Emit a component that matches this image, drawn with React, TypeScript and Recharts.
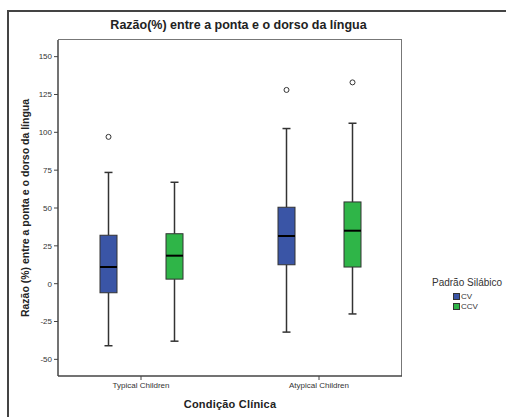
import { ComposedChart, Bar, XAxis, YAxis } from 'recharts';

const categories = ['Typical Children', 'Atypical Children'];

const cvMin = [-41, -32];
const cvQ1 = [-6, 12.5];
const cvMedian = [11, 31.5];
const cvQ3 = [32, 50.5];
const cvMax = [73.5, 102.5];
const cvOutlier = [97, 128];

const ccvMin = [-38, -20];
const ccvQ1 = [3, 11];
const ccvMedian = [18.5, 35];
const ccvQ3 = [33, 54];
const ccvMax = [67, 106];
const ccvOutlier: (number | null)[] = [null, 133];

const yTicks = [-50, -25, 0, 25, 50, 75, 100, 125, 150];

const data = categories.map((name, i) => ({
  name,
  cv: { min: cvMin[i], q1: cvQ1[i], med: cvMedian[i], q3: cvQ3[i], max: cvMax[i], out: cvOutlier[i] },
  ccv: { min: ccvMin[i], q1: ccvQ1[i], med: ccvMedian[i], q3: ccvQ3[i], max: ccvMax[i], out: ccvOutlier[i] },
}));

const FONT = '"Liberation Sans", Arial, sans-serif';
const INK = '#333';

const makeBox = (key: 'cv' | 'ccv', fill: string) => (props: any) => {
  const { x, y, width, height, payload } = props;
  const s = payload[key];
  const top = Math.min(y, y + height);
  const h = Math.abs(height);
  const k = h / (s.q3 - s.q1);
  const py = (v: number) => top + (s.q3 - v) * k;
  const cx = x + width / 2;
  const cap = 4;
  return (
    <g>
      <line x1={cx} x2={cx} y1={py(s.max)} y2={top} stroke={INK} strokeWidth={1.5} />
      <line x1={cx} x2={cx} y1={top + h} y2={py(s.min)} stroke={INK} strokeWidth={1.5} />
      <line x1={cx - cap} x2={cx + cap} y1={py(s.max)} y2={py(s.max)} stroke={INK} strokeWidth={1.5} />
      <line x1={cx - cap} x2={cx + cap} y1={py(s.min)} y2={py(s.min)} stroke={INK} strokeWidth={1.5} />
      <rect x={x} y={top} width={width} height={h} fill={fill} stroke={INK} strokeWidth={1} />
      <line x1={x} x2={x + width} y1={py(s.med)} y2={py(s.med)} stroke="#000" strokeWidth={2} />
      {s.out != null && (
        <circle cx={cx} cy={py(s.out)} r={2.5} fill="#fff" stroke={INK} strokeWidth={1} />
      )}
    </g>
  );
};

const legendItems = [
  { label: 'CV', color: '#3a55a6' },
  { label: 'CCV', color: '#2fb548' },
];

const LegendBox = () => (
  <div style={{ position: 'absolute', left: 432, top: 277, fontFamily: FONT, color: INK }}>
    <div style={{ fontSize: 10, marginBottom: 3 }}>Padrão Silábico</div>
    {legendItems.map((it) => (
      <div key={it.label} style={{ display: 'flex', alignItems: 'center', marginLeft: 21, height: 10, fontSize: 8 }}>
        <span style={{ width: 7, height: 7, background: it.color, border: `1px solid ${INK}`, marginRight: 1, boxSizing: 'border-box' }} />
        {it.label}
      </div>
    ))}
  </div>
);

export default function App() {
  return (
    <div style={{ position: 'absolute', left: 0, top: 0, width: 506, height: 417, background: '#fff', overflow: 'hidden' }}>
      <div style={{ position: 'absolute', left: 7, top: 10, width: 498, height: 420, borderTop: '2px solid #444', borderLeft: '2px solid #444' }} />
      <div
        style={{
          position: 'absolute', left: 0, top: 18, width: 477, textAlign: 'center',
          fontFamily: FONT, fontWeight: 'bold', fontSize: 12.5, color: '#222',
        }}
      >
        Razão(%) entre a ponta e o dorso da língua
      </div>
      {/* plot frame: top and right edges */}
      <div style={{ position: 'absolute', left: 58, top: 39, width: 343, height: 336, borderTop: '1.5px solid #777', borderRight: '1.5px solid #777' }} />
      <div style={{ position: 'absolute', left: 0, top: 0 }}>
        <ComposedChart
          width={506}
          height={417}
          data={data}
          margin={{ top: 40, right: 104, bottom: 11, left: 28 }}
          barSize={17}
          barGap={49}
        >
          <XAxis
            dataKey="name"
            height={30}
            padding={{ left: -6, right: -6 }}
            axisLine={{ stroke: '#444', strokeWidth: 1.5 }}
            tickLine={{ stroke: '#444' }}
            tickSize={4}
            tick={{ fontSize: 8, fill: INK, fontFamily: FONT }}
            label={{ value: 'Condição Clínica', position: 'insideBottom', offset: -2, fontSize: 11, fontWeight: 'bold', fill: '#222', fontFamily: FONT, letterSpacing: 0.2 }}
          />
          <YAxis
            width={30}
            domain={[-61, 161]}
            ticks={yTicks}
            interval={0}
            axisLine={{ stroke: '#444', strokeWidth: 1.5 }}
            tickLine={{ stroke: '#444' }}
            tickSize={4}
            tick={{ fontSize: 8, fill: INK, fontFamily: FONT }}
            label={{ value: 'Razão (%) entre a ponta e o dorso da língua', angle: -90, position: 'insideLeft', offset: -3, fontSize: 10.5, fontWeight: 'bold', fill: '#222', fontFamily: FONT, style: { textAnchor: 'middle' } }}
          />
          <Bar dataKey={(d: any) => [d.cv.q1, d.cv.q3]} name="CV" fill="#3a55a6" shape={makeBox('cv', '#3a55a6')} isAnimationActive={false} />
          <Bar dataKey={(d: any) => [d.ccv.q1, d.ccv.q3]} name="CCV" fill="#2fb548" shape={makeBox('ccv', '#2fb548')} isAnimationActive={false} />
        </ComposedChart>
      </div>
      <LegendBox />
    </div>
  );
}
